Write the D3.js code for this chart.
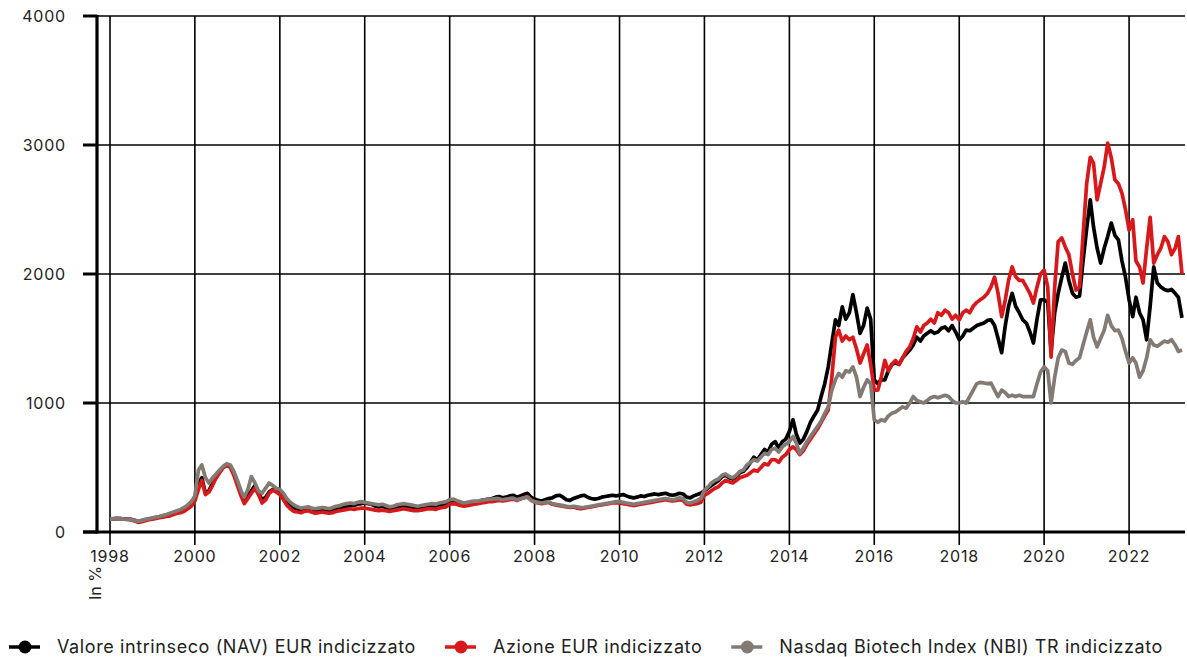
<!DOCTYPE html>
<html>
<head>
<meta charset="utf-8">
<script src="https://cdn.jsdelivr.net/npm/d3@7"></script>
<style>
  body { margin: 0; background: #fff; }
  svg { font-family: Inter, "Noto Sans", sans-serif; }
</style>
</head>
<body>
<svg width="1187" height="657"></svg>
<script>
// monthly values, Jan 1998 .. Apr 2023 (index = 100 at start)
var nav = [
  100,102,104,103,101,100,98,90,82,88,95,100,
  105,110,118,125,130,140,150,160,165,180,200,220,
  260,380,420,300,320,380,420,470,500,520,510,460,
  380,300,240,280,320,360,300,250,270,310,330,320,
  300,270,230,200,180,170,165,175,180,170,160,170,
  175,170,165,170,180,185,195,200,210,205,215,220,
  225,220,215,200,195,200,190,180,185,195,200,205,
  200,195,190,185,190,195,200,205,200,210,215,220,
  225,230,220,215,210,215,220,225,235,245,250,255,
  260,270,275,265,270,280,285,270,280,290,300,270,
  255,245,240,250,260,265,280,285,270,250,245,260,
  270,280,285,270,260,255,260,270,275,280,285,280,
  285,290,280,270,265,270,280,275,285,290,295,290,
  295,300,290,285,290,300,295,270,265,280,290,300,
  320,340,360,380,400,430,440,420,410,430,460,470,
  500,540,580,560,600,640,620,680,700,650,700,720,
  780,870,760,690,720,780,850,900,945,1050,1150,1280,
  1465,1645,1600,1745,1650,1700,1840,1700,1540,1600,1735,1650,
  1180,1150,1180,1180,1250,1300,1310,1300,1350,1380,1410,1450,
  1510,1480,1520,1540,1560,1540,1550,1580,1590,1560,1600,1550,
  1490,1520,1565,1560,1580,1600,1610,1620,1640,1645,1600,1500,
  1390,1600,1750,1850,1750,1700,1645,1620,1550,1465,1650,1800,
  1800,1780,1400,1700,1850,1975,2085,1950,1850,1820,1830,2100,
  2350,2575,2365,2200,2085,2200,2290,2395,2300,2265,2100,1975,
  1800,1670,1820,1700,1645,1490,1750,2055,1930,1900,1880,1870,
  1880,1850,1820,1660
];
var share = [
  100,103,106,104,100,98,95,85,75,80,88,95,
  100,105,110,115,120,125,135,145,150,160,180,200,
  240,330,400,290,310,360,420,460,500,520,500,440,
  360,280,220,260,300,340,290,225,250,300,325,310,
  290,250,210,180,160,155,150,160,165,155,145,150,
  155,150,145,150,160,165,170,175,180,175,180,185,
  185,180,175,170,165,170,165,160,165,170,175,180,
  175,170,165,165,170,175,180,180,175,185,190,195,
  215,220,215,205,200,205,210,215,220,225,230,235,
  235,240,245,240,245,250,255,245,255,265,275,250,
  230,225,220,225,230,215,210,205,200,195,190,195,
  185,180,185,190,195,200,205,210,215,220,225,225,
  225,220,215,210,205,210,215,220,225,230,235,240,
  245,250,245,240,245,250,245,215,210,215,220,230,
  285,300,320,340,350,380,400,390,380,400,420,430,
  440,460,480,470,500,530,520,560,560,540,580,600,
  640,660,640,600,630,680,720,760,800,850,900,945,
  1200,1510,1565,1480,1520,1490,1510,1420,1310,1380,1450,1300,
  1100,1100,1200,1330,1250,1300,1330,1300,1350,1400,1435,1500,
  1590,1550,1600,1620,1650,1620,1700,1680,1720,1700,1650,1680,
  1645,1700,1720,1700,1750,1780,1800,1820,1850,1900,1975,1850,
  1670,1800,1950,2055,1980,1950,1950,1900,1850,1775,1900,2000,
  2030,1900,1355,1900,2250,2280,2210,2150,2000,1875,1900,2300,
  2700,2905,2860,2575,2700,2830,3015,2900,2730,2700,2625,2500,
  2340,2420,2100,2055,1930,2200,2440,2085,2150,2200,2290,2250,
  2150,2200,2290,2000
];
var nbi = [
  100,102,104,102,100,98,96,90,84,90,98,104,
  110,115,120,128,135,145,155,165,175,190,210,235,
  280,480,520,420,380,420,450,480,510,530,520,470,
  400,320,270,330,430,380,320,300,340,380,360,340,
  330,300,260,230,210,195,185,190,195,185,180,185,
  190,185,180,190,200,205,215,220,225,220,230,235,
  230,225,220,215,210,215,205,195,200,210,215,220,
  215,210,205,200,205,210,215,220,215,225,230,235,
  250,255,245,235,225,230,235,240,240,245,250,255,
  255,260,258,250,255,260,262,250,258,265,270,245,
  235,230,225,230,235,220,215,210,205,200,195,200,
  195,190,192,195,200,205,210,215,220,225,230,235,
  235,230,225,220,215,220,225,230,235,240,245,250,
  255,260,255,250,255,265,260,230,225,235,245,260,
  325,350,380,400,410,440,450,430,420,440,470,480,
  520,540,560,550,580,610,600,640,650,620,660,680,
  700,740,690,610,650,700,740,780,820,860,920,970,
  1100,1180,1230,1200,1250,1240,1280,1200,1050,1120,1180,1150,
  870,850,870,860,900,920,930,950,970,960,1000,1050,
  1020,1010,1000,1020,1040,1050,1040,1050,1060,1050,1020,1000,
  1000,1010,1000,1050,1100,1150,1160,1155,1150,1155,1100,1050,
  1100,1080,1050,1060,1050,1060,1050,1050,1050,1050,1150,1240,
  1280,1250,1000,1200,1350,1410,1400,1310,1300,1330,1350,1450,
  1550,1645,1510,1435,1500,1565,1680,1600,1560,1565,1500,1400,
  1310,1350,1310,1200,1250,1350,1490,1450,1440,1460,1480,1470,
  1490,1450,1400,1410
];
var yTicks = [0, 1000, 2000, 3000, 4000];
var xYears = [1998,2000,2002,2004,2006,2008,2010,2012,2014,2016,2018,2020,2022];
var seriesNames = ["Valore intrinseco (NAV) EUR indicizzato", "Azione EUR indicizzato", "Nasdaq Biotech Index (NBI) TR indicizzato"];
var seriesColors = ["#000000", "#d7191c", "#837b73"];

var svg = d3.select("svg");
var plotL = 97, plotR = 1185, plotT = 16, plotB = 532;

var months = d3.timeMonth.range(new Date(1998, 0, 1), new Date(2023, 4, 1));
var x = d3.scaleTime().domain([new Date(1998, 0, 1), new Date(2024, 0, 1)]).range([110, 110 + 26 * 42.46]);
var y = d3.scaleLinear().domain([0, 4000]).range([plotB, plotT]);

// grid
svg.append("g").selectAll("line").data(yTicks).enter().append("line")
  .attr("x1", plotL).attr("x2", plotR)
  .attr("y1", function(d) { return y(d) }).attr("y2", function(d) { return y(d) })
  .attr("stroke", "#000").attr("stroke-width", 1.6);
svg.append("g").selectAll("line").data(xYears).enter().append("line")
  .attr("x1", function(d) { return x(new Date(d, 0, 1)) }).attr("x2", function(d) { return x(new Date(d, 0, 1)) })
  .attr("y1", plotT).attr("y2", plotB + 13)
  .attr("stroke", "#000").attr("stroke-width", 1.6);

// axes
svg.append("line").attr("x1", plotL).attr("x2", plotL).attr("y1", plotT - 1).attr("y2", plotB + 1.5)
  .attr("stroke", "#000").attr("stroke-width", 3.2);
svg.append("line").attr("x1", 83).attr("x2", plotR).attr("y1", plotB).attr("y2", plotB)
  .attr("stroke", "#000").attr("stroke-width", 3);
svg.append("g").selectAll("line").data(yTicks).enter().append("line")
  .attr("x1", 83).attr("x2", plotL)
  .attr("y1", function(d) { return y(d) }).attr("y2", function(d) { return y(d) })
  .attr("stroke", "#000").attr("stroke-width", 3);

svg.append("g").selectAll("text").data(yTicks).enter().append("text")
  .attr("x", 66).attr("y", function(d) { return y(d) + 6 })
  .attr("text-anchor", "end").attr("font-size", 16).attr("letter-spacing", 0.8).attr("fill", "#222")
  .text(function(d) { return d });
svg.append("g").selectAll("text").data(xYears).enter().append("text")
  .attr("x", function(d) { return x(new Date(d, 0, 1)) }).attr("y", 562)
  .attr("text-anchor", "middle").attr("font-size", 16).attr("letter-spacing", 0.8).attr("fill", "#222")
  .text(function(d) { return d });
svg.append("text").attr("transform", "translate(101,600) rotate(-90)")
  .attr("font-size", 16).attr("fill", "#222").text("In %");

// lines
var line = d3.line()
  .x(function(d, i) { return x(months[i]) })
  .y(function(d) { return y(d) });
[nav, share, nbi].forEach(function(s, k) {
  svg.append("path").datum(s)
    .attr("d", line)
    .attr("fill", "none")
    .attr("stroke", seriesColors[k])
    .attr("stroke-width", 3.7)
    .attr("stroke-linejoin", "round");
});

// legend
var lx = 9;
seriesNames.forEach(function(name, k) {
  var g = svg.append("g").attr("transform", "translate(" + lx + ",647)");
  g.append("line").attr("x1", 0).attr("x2", 31).attr("stroke", seriesColors[k]).attr("stroke-width", 3.5);
  g.append("circle").attr("cx", 16).attr("r", 6.5).attr("fill", seriesColors[k]);
  var t = g.append("text").attr("x", 48).attr("y", 6).attr("font-size", 18).attr("letter-spacing", 0.6)
    .attr("fill", "#222").text(name);
  lx += 48 + t.node().getComputedTextLength() + 29;
});
</script>
</body>
</html>
